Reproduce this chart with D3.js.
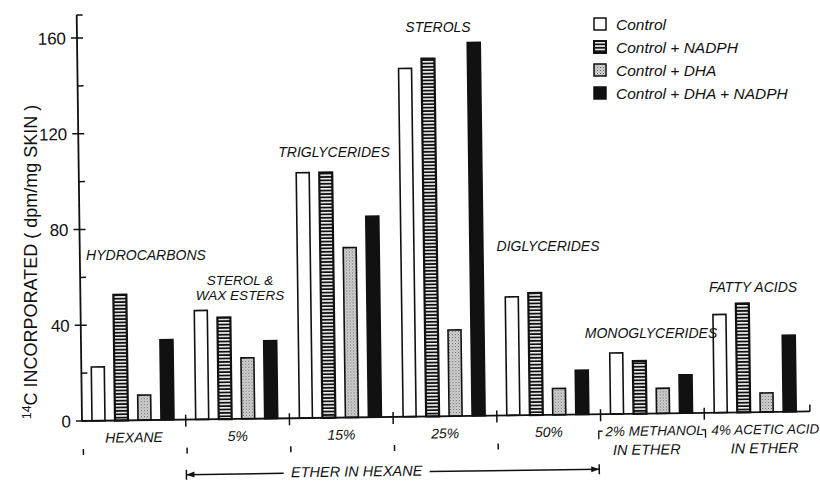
<!DOCTYPE html>
<html>
<head>
<meta charset="utf-8">
<script src="https://cdn.jsdelivr.net/npm/d3@7"></script>
<style>
  body { margin: 0; background: #fff; }
  text { font-family: "Liberation Sans", Arial, sans-serif; fill: #111; }
  .lab { font-style: italic; }
</style>
</head>
<body>
<div id="chart"></div>
<script>
// solvent fractions along the x axis
const fractions = ["HEXANE", "5%", "15%", "25%", "50%", "2% METHANOL", "4% ACETIC ACID"];
const fractionSub = ["", "", "", "", "", "IN ETHER", "IN ETHER"];
const lipidClass = ["HYDROCARBONS", "STEROL &|WAX ESTERS", "TRIGLYCERIDES", "STEROLS",
                    "DIGLYCERIDES", "MONOGLYCERIDES", "FATTY ACIDS"];
const series = ["Control", "Control + NADPH", "Control + DHA", "Control + DHA + NADPH"];

// dpm/mg skin, one array per series
const control         = [22.5, 45.5, 102.5, 145.5, 49.5, 25.5, 41];
const controlNadph    = [52.5, 42.5, 102.5, 149.5, 51, 22, 45.5];
const controlDha      = [10.5, 25.5, 71, 36, 11, 10.5, 8];
const controlDhaNadph = [33.5, 32.5, 84, 156, 18.5, 16, 32];
const yTicks = [0, 40, 80, 120, 160];

const values = [control, controlNadph, controlDha, controlDhaNadph];

const W = 820, H = 481;
const x0 = 82, x1 = 808, yBase = 421, yTop = 38;

const svg = d3.select("#chart").append("svg")
    .attr("width", W).attr("height", H);

// patterns for the hatched / stippled bars
const defs = svg.append("defs");
const stripes = defs.append("pattern")
    .attr("id", "stripes").attr("patternUnits", "userSpaceOnUse")
    .attr("width", 6).attr("height", 3.4);
stripes.append("rect").attr("width", 6).attr("height", 3.4).attr("fill", "#111");
stripes.append("rect").attr("y", 0.9).attr("width", 6).attr("height", 1.5).attr("fill", "#fff");

const dots = defs.append("pattern")
    .attr("id", "dots").attr("patternUnits", "userSpaceOnUse")
    .attr("width", 3).attr("height", 3);
dots.append("rect").attr("width", 3).attr("height", 3).attr("fill", "#d8d8d8");
dots.append("rect").attr("x", 0).attr("y", 0).attr("width", 1).attr("height", 1).attr("fill", "#555");
dots.append("rect").attr("x", 1.5).attr("y", 1.5).attr("width", 1).attr("height", 1).attr("fill", "#777");

const fills = ["#fff", "url(#stripes)", "url(#dots)", "#111"];

// scales
const xGroup = d3.scaleBand().domain(fractions).range([x0, x1]).padding(0);
const xInner = d3.scaleBand().domain(series).range([10, 92]).paddingInner(0.435).paddingOuter(0);
const y = d3.scaleLinear().domain([0, 160]).range([yBase, yTop]);

// the scanned figure is tilted a little, so the plot frame is rotated
const plot = svg.append("g").attr("transform", `rotate(-0.75,${x0},${yBase})`);

// bars
const rows = [];
fractions.forEach((f, i) => series.forEach((s, j) => rows.push({ f, s, j, v: values[j][i] })));

plot.append("g").selectAll("rect")
    .data(rows)
    .enter().append("rect")
    .attr("x", d => xGroup(d.f) + xInner(d.s))
    .attr("y", d => y(d.v))
    .attr("width", xInner.bandwidth())
    .attr("height", d => yBase - y(d.v))
    .attr("fill", d => fills[d.j])
    .attr("stroke", "#111")
    .attr("stroke-width", d => d.j === 1 ? 2.2 : 1.6);

// y axis
const yAxis = plot.append("g").attr("transform", `translate(${x0},0)`);
yAxis.append("line").attr("y1", 15).attr("y2", yBase).attr("stroke", "#111").attr("stroke-width", 1.8);
yAxis.append("line").attr("y1", 15).attr("y2", 15).attr("x2", 6).attr("stroke", "#111").attr("stroke-width", 1.5);
yTicks.forEach(t => {
    yAxis.append("line").attr("x1", -6).attr("x2", t === 0 ? 0 : 6)
        .attr("y1", y(t)).attr("y2", y(t)).attr("stroke", "#111").attr("stroke-width", 1.5);
    yAxis.append("text").attr("x", -11).attr("y", y(t)).attr("dy", "0.36em")
        .attr("text-anchor", "end").attr("font-size", 17).text(t);
});
d3.range(20, 160, 40).forEach(t => {
    yAxis.append("line").attr("x1", 0).attr("x2", 6)
        .attr("y1", y(t)).attr("y2", y(t)).attr("stroke", "#111").attr("stroke-width", 1.5);
});

// x baseline and separators
plot.append("line").attr("x1", x0).attr("x2", x1 + 2).attr("y1", yBase).attr("y2", yBase)
    .attr("stroke", "#111").attr("stroke-width", 1.8);
plot.append("line").attr("x1", x1 + 2).attr("x2", x1 + 2).attr("y1", yBase).attr("y2", yBase - 7)
    .attr("stroke", "#111").attr("stroke-width", 1.5);
fractions.slice(1).forEach(f => {
    plot.append("line").attr("x1", xGroup(f)).attr("x2", xGroup(f))
        .attr("y1", yBase - 5).attr("y2", yBase + 7).attr("stroke", "#111").attr("stroke-width", 1.5);
});

// fraction names
const nameShift = [0, 0, 0, 0, 0, 2, 9];
const subShift = [0, 0, 0, 0, 0, -6, 8];
fractions.forEach((f, i) => {
    const cx = xGroup(f) + xGroup.bandwidth() / 2;
    plot.append("text").attr("class", "lab").attr("x", cx + nameShift[i]).attr("y", 443)
        .attr("text-anchor", "middle").attr("font-size", i >= 5 ? 13.5 : 14).text(f);
    if (fractionSub[i]) {
        plot.append("text").attr("class", "lab").attr("x", cx + subShift[i]).attr("y", 462)
            .attr("text-anchor", "middle").attr("font-size", 14.5).text(fractionSub[i]);
    }
});

// small lower ticks
fractions.slice(0, 5).forEach(f => {
    plot.append("line").attr("x1", xGroup(f) + 1).attr("x2", xGroup(f) + 1)
        .attr("y1", 449).attr("y2", 455).attr("stroke", "#111").attr("stroke-width", 1.5);
});
[[xGroup(fractions[5]) - 2, 1], [xGroup(fractions[6]) + 1, -1]].forEach(([bx, dir]) => {
    plot.append("path").attr("d", `M${bx + 4 * dir},438 H${bx} V446`)
        .attr("fill", "none").attr("stroke", "#111").attr("stroke-width", 1.3);
});

// ether in hexane arrow
const ax1 = xGroup(fractions[1]), ax2 = xGroup(fractions[5]) - 2, ay = 476;
plot.append("line").attr("x1", ax1).attr("x2", 283).attr("y1", ay).attr("y2", ay).attr("stroke", "#111").attr("stroke-width", 1.5);
plot.append("line").attr("x1", 429).attr("x2", ax2).attr("y1", ay).attr("y2", ay).attr("stroke", "#111").attr("stroke-width", 1.5);
plot.append("path").attr("d", `M${ax1},${ay} l8,-3 v6 z M${ax2},${ay} l-8,-3 v6 z`).attr("fill", "#111");
plot.append("line").attr("x1", ax1).attr("x2", ax1).attr("y1", ay - 5).attr("y2", ay + 5).attr("stroke", "#111").attr("stroke-width", 1.5);
plot.append("line").attr("x1", ax2).attr("x2", ax2).attr("y1", ay - 5).attr("y2", ay + 5).attr("stroke", "#111").attr("stroke-width", 1.5);
plot.append("text").attr("class", "lab").attr("x", 356).attr("y", 480)
    .attr("text-anchor", "middle").attr("font-size", 14.5).text("ETHER IN HEXANE");

// y label
const yl = svg.append("text")
    .attr("transform", "translate(37,262) rotate(-90)")
    .attr("text-anchor", "middle").attr("font-size", 18);
yl.append("tspan").attr("font-size", 12.5).attr("dy", -6).text("14");
yl.append("tspan").attr("dy", 6).text("C INCORPORATED ( dpm/mg SKIN )");

// lipid class labels above bars
const classPos = [[146, 260], [240, 285], [334, 157], [438, 32], [548, 251], [651, 338], [753, 292]];
lipidClass.forEach((c, i) => {
    const parts = c.split("|");
    const t = svg.append("text").attr("class", "lab").attr("font-size", parts.length === 2 ? 13.5 : 14)
        .attr("text-anchor", "middle").attr("x", classPos[i][0]).attr("y", classPos[i][1]);
    if (parts.length === 2) {
        t.append("tspan").attr("x", classPos[i][0]).text(parts[0]);
        t.append("tspan").attr("x", classPos[i][0]).attr("dy", 15).text(parts[1]);
    } else {
        t.text(c);
    }
});

// legend
const legend = svg.append("g").attr("transform", "translate(594,18)");
series.forEach((s, i) => {
    const g = legend.append("g").attr("transform", `translate(0,${i * 23})`);
    g.append("rect").attr("width", 12).attr("height", 12)
        .attr("fill", fills[i]).attr("stroke", "#111").attr("stroke-width", i === 1 ? 2 : 1.5);
    g.append("text").attr("class", "lab").attr("x", 22).attr("y", 12)
        .attr("font-size", 15.5).text(s);
});
</script>
</body>
</html>
